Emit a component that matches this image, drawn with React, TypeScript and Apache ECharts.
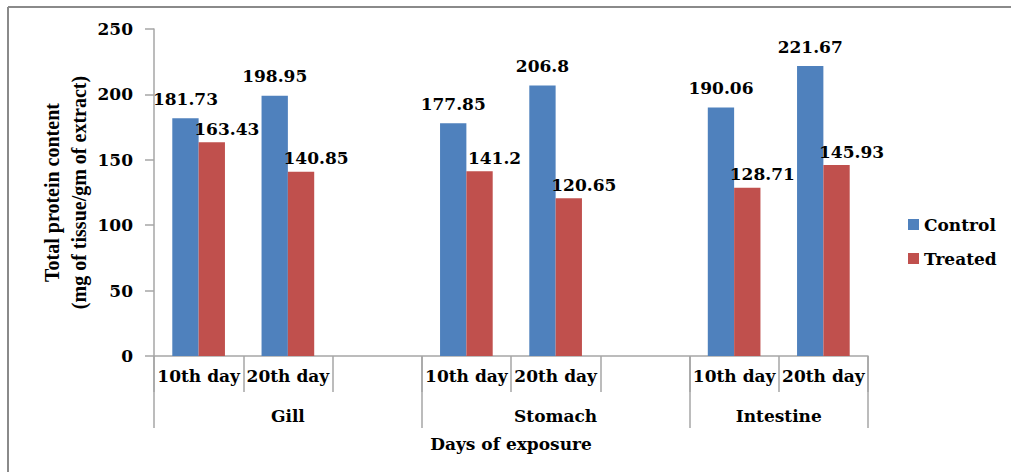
import React, { useEffect, useRef } from "react";
import * as echarts from "echarts";

const days = ["10th day", "20th day"];
const organs = ["Gill", "Stomach", "Intestine"];
const controlValues = [181.73, 198.95, 177.85, 206.8, 190.06, 221.67];
const treatedValues = [163.43, 140.85, 141.2, 120.65, 128.71, 145.93];
const yTicks = { min: 0, max: 250, interval: 50 };
const xTitle = "Days of exposure";
const yTitle = "Total protein content\n(mg of tissue/gm of extract)";

const HFONT = "'DejaVu Serif', serif";

export default function App() {
  const ref = useRef<HTMLDivElement>(null);
  useEffect(() => {
    if (!ref.current) return;
    const chart = echarts.init(ref.current, null, { renderer: "svg" });

    // Build slot layout: days per organ, with an empty spacer between organs
    const slotCats: string[] = [];
    const ctrl: any[] = [];
    const trt: any[] = [];
    const groupSpans: { name: string; start: number; end: number }[] = [];
    let k = 0;
    organs.forEach((o, i) => {
      const start = slotCats.length;
      days.forEach((d) => {
        slotCats.push(d);
        ctrl.push(controlValues[k]);
        trt.push(treatedValues[k]);
        k++;
      });
      if (i < organs.length - 1) {
        slotCats.push("");
        ctrl.push("-");
        trt.push("-");
      }
      groupSpans.push({ name: o, start, end: slotCats.length });
    });
    const S = slotCats.length;
    const halfCats: string[] = new Array(2 * S + 1).fill("");
    const boundaries = new Set<number>();
    groupSpans.forEach((g) => {
      halfCats[g.start + g.end] = g.name;
      boundaries.add(2 * g.start);
      boundaries.add(2 * g.end);
    });

    const axisGray = "#a6a6a6";
    const labelStyle = {
      fontFamily: HFONT,
      fontWeight: "bold" as const,
      fontSize: 17,
      color: "#000",
    };

    chart.setOption({
      animation: false,
      backgroundColor: "#fff",
      graphic: [
        {
          type: "line",
          shape: { x1: 8, y1: 7, x2: 1011, y2: 7 },
          style: { stroke: "#8a8a8a", lineWidth: 2 },
        },
        {
          type: "line",
          shape: { x1: 8, y1: 7, x2: 8, y2: 472 },
          style: { stroke: "#8a8a8a", lineWidth: 2 },
        },
      ],
      grid: { left: 154, right: 143, top: 29, bottom: 116, containLabel: false },
      legend: {
        orient: "vertical",
        left: 903,
        top: 211,
        itemWidth: 11,
        itemHeight: 11,
        itemGap: 17,
        icon: "rect",
        textStyle: { ...labelStyle, fontSize: 17 },
        data: ["Control", "Treated"],
      },
      xAxis: [
        {
          type: "category",
          gridIndex: 0,
          data: slotCats,
          axisLine: { show: true, lineStyle: { color: axisGray, width: 1.5 } },
          axisTick: { show: true, interval: 0, length: 36, lineStyle: { color: axisGray, width: 1.5 } },
          axisLabel: { interval: 0, margin: 11, ...labelStyle },
          splitLine: { show: false },
        },
        {
          type: "category",
          gridIndex: 0,
          position: "bottom",
          boundaryGap: false,
          data: halfCats,
          axisLine: { show: false },
          axisTick: {
            show: true,
            interval: (idx: number) => boundaries.has(idx),
            length: 72,
            lineStyle: { color: axisGray, width: 1.5 },
          },
          axisLabel: { interval: 0, margin: 51, ...labelStyle },
          splitLine: { show: false },
          name: xTitle,
          nameLocation: "middle",
          nameGap: 79,
          nameMoveOverlap: false,
          nameTextStyle: { ...labelStyle },
        },
      ],
      yAxis: {
        type: "value",
        min: yTicks.min,
        max: yTicks.max,
        interval: yTicks.interval,
        axisLine: { show: true, lineStyle: { color: axisGray, width: 1.5 } },
        axisTick: { show: true, length: 9, lineStyle: { color: axisGray, width: 1.5 } },
        axisLabel: { margin: 21, ...labelStyle, fontSize: 17 },
        splitLine: { show: false },
        name: yTitle,
        nameLocation: "middle",
        nameRotate: 90,
        nameGap: 62,
        nameMoveOverlap: false,
        nameTextStyle: {
          fontFamily: "'Liberation Serif', serif",
          fontWeight: "bold",
          fontSize: 20,
          lineHeight: 27,
          color: "#000",
        },
      },
      series: [
        {
          name: "Control",
          type: "bar",
          xAxisIndex: 0,
          data: ctrl,
          barGap: "0%",
          barCategoryGap: "41%",
          itemStyle: { color: "#4F81BD" },
          label: {
            show: true,
            position: "top",
            distance: 11,
            ...labelStyle,
          },
        },
        {
          name: "Treated",
          type: "bar",
          xAxisIndex: 0,
          data: trt,
          itemStyle: { color: "#C0504D" },
          label: {
            show: true,
            position: "top",
            distance: 5,
            offset: [15, 0],
            ...labelStyle,
          },
        },
      ],
    });
    return () => chart.dispose();
  }, []);
  return (
    <div
      ref={ref}
      style={{ position: "fixed", left: 0, top: 0, width: 1011, height: 472 }}
    />
  );
}
